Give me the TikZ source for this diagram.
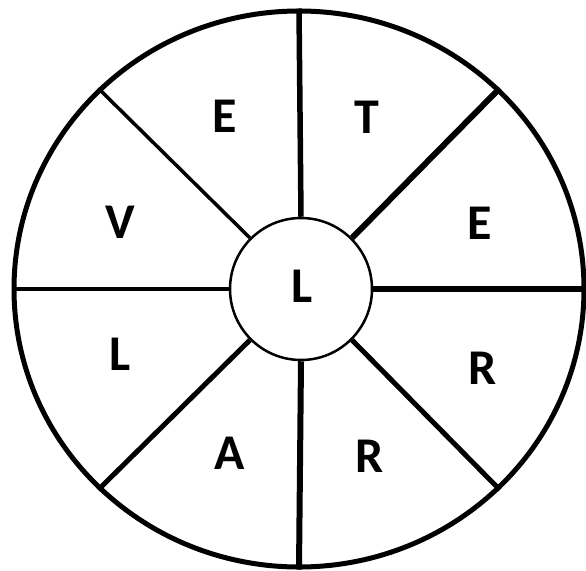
\documentclass[tikz,border=0pt]{standalone}
\usepackage{fontspec}
\setmainfont{Carlito}
\usetikzlibrary{shapes.geometric}

\begin{document}
\begin{tikzpicture}[
    x=1pt,y=-1pt,
    rim/.style={draw,ellipse,line width=5pt,minimum width=570pt,minimum height=556pt,inner sep=0pt},
    hub/.style={draw,circle,line width=2.5pt,minimum size=142pt,inner sep=0pt},
    spoke/.style={line width=#1},
    letter/.style={font=\fontsize{50}{50}\selectfont\bfseries,inner sep=0pt}
  ]
    \useasboundingbox (0,0) rectangle (586,570);
    \node[rim] (rim) at (299,289) {};
    \node[hub] (hub) at (301,289) {};
    % spokes between hub and rim
    \foreach \a/\w in {90/5.5pt,45/6pt,0/6pt,-45/5pt,-90/6pt,-135/5pt,180/4pt,135/3.5pt}
      \draw[spoke=\w] (hub.\a) -- (rim.\a);
    % letters
    \node[letter] (c) at (302,286) {L};
    \node[letter] (e1) at (225,116) {E};
    \node[letter] (t) at (367,117) {T};
    \node[letter] (e2) at (480,223) {E};
    \node[letter] (r1) at (483,368) {R};
    \node[letter] (r2) at (370,456) {R};
    \node[letter] (a) at (230,453) {A};
    \node[letter] (l) at (120,354) {L};
    \node[letter] (v) at (120,222) {V};
  \end{tikzpicture}
\end{document}
